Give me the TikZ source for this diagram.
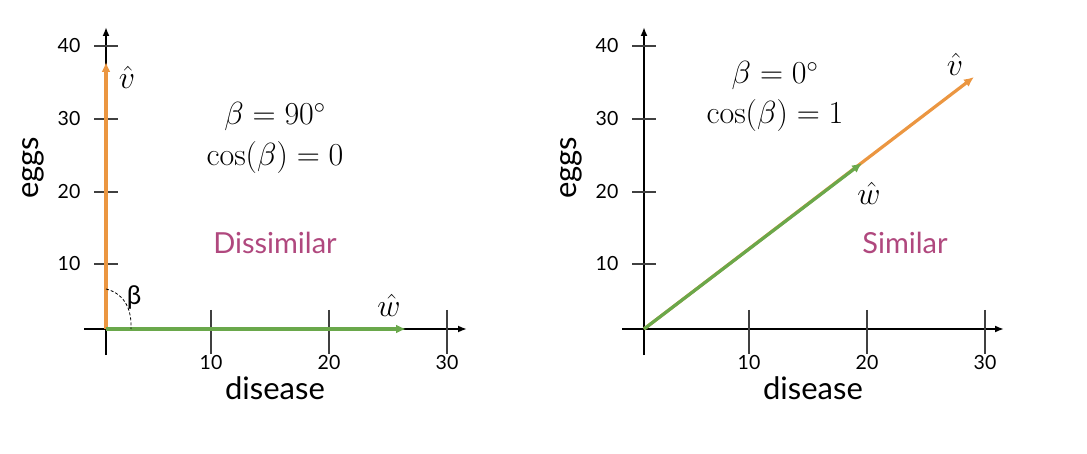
\RequirePackage{fix-cm}
\documentclass[tikz,border=0pt]{standalone}
\usepackage[no-math]{fontspec}
\usepackage{graphicx}
\setmainfont{Lato}
\usetikzlibrary{arrows.meta}
\definecolor{vorange}{HTML}{EB9641}
\definecolor{wgreen}{HTML}{6AA84B}
\definecolor{simcol}{HTML}{B0487E}
\definecolor{tickgray}{HTML}{404040}
\begin{document}
\begin{tikzpicture}[x=1pt,y=-1pt,
  axis/.style={line width=1.8pt,-{Latex[length=9pt,width=7pt]}},
  tickmark/.style={line width=1.3pt,tickgray},
  ticklab/.style={font=\fontsize{19.5}{22}\selectfont},
  axlab/.style={font=\fontsize{31}{34}\selectfont},
  vecv/.style={line width=3.2pt,vorange,-{Latex[length=10pt,width=9pt]}},
  vecw/.style={line width=3.2pt,wgreen,-{Latex[length=10pt,width=9pt]}},
  mathlab/.style={font=\fontsize{32}{36}\selectfont},
  simlab/.style={font=\fontsize{29}{33}\selectfont,text=simcol}]
\useasboundingbox (0,0) rectangle (1087,454);
% ---------- left plot ----------
\coordinate (Lo) at (106,329);
\coordinate (Lxs) at (84,329);
\coordinate (Lxe) at (467,329);
\coordinate (Lys) at (106,355);
\coordinate (Lye) at (106,27);
\draw[axis] (Lxs) -- (Lxe);
\draw[axis] (Lys) -- (Lye);
\foreach \x/\l in {211/10,329/20,447/30}{
  \draw[tickmark] (\x,310) -- (\x,354);
  \node[ticklab] (Lxt\l) at (\x,363) {\l};
}
\foreach \y/\l in {264/10,192/20,119/30,46/40}{
  \draw[tickmark] (94,\y) -- (118,\y);
  \node[ticklab] (Lyt\l) at (69,\y) {\l};
}
\node[axlab] (Lxl) at (275,388) {disease};
\node[axlab,rotate=90] (Lyl) at (33,168) {eggs};
\coordinate (Lv) at (106,62);
\coordinate (Lw) at (406,329);
\draw[vecv] (Lo) -- (Lv);
\draw[vecw] (Lo) -- (Lw);
\node[mathlab] (Lvl) at (127,77) {$\hat{v}$};
\node[mathlab] (Lwl) at (389,305) {$\hat{w}$};
\coordinate (La1) at (106,289);
\coordinate (La2) at (131,329);
\draw[dashed,line width=0.8pt,dash pattern=on 3pt off 2pt] (La1) .. controls (122,293) and (132,306) .. (La2);
\node[font=\fontsize{26}{30}\selectfont] (Lb) at (134,297) {β};
\node[mathlab] (Lm1) at (275,117) {$\beta = 90^\circ$};
\node[mathlab] (Lm2) at (275,158) {$\cos(\beta) = 0$};
\node[simlab] (Ld) at (275,243) {Dissimilar};
% ---------- right plot ----------
\coordinate (Ro) at (644,329);
\coordinate (Rxs) at (622,329);
\coordinate (Rxe) at (1004,329);
\coordinate (Rys) at (644,355);
\coordinate (Rye) at (644,27);
\draw[axis] (Rxs) -- (Rxe);
\draw[axis] (Rys) -- (Rye);
\foreach \x/\l in {749/10,867/20,985/30}{
  \draw[tickmark] (\x,310) -- (\x,354);
  \node[ticklab] (Rxt\l) at (\x,363) {\l};
}
\foreach \y/\l in {264/10,192/20,119/30,46/40}{
  \draw[tickmark] (632,\y) -- (656,\y);
  \node[ticklab] (Ryt\l) at (607,\y) {\l};
}
\node[axlab] (Rxl) at (813,388) {disease};
\node[axlab,rotate=90] (Ryl) at (571,168) {eggs};
\coordinate (Rv) at (974,77);
\coordinate (Rw) at (862,163);
\draw[vecv] (Ro) -- (Rv);
\draw[vecw] (Ro) -- (Rw);
\node[mathlab] (Rvl) at (955,64) {$\hat{v}$};
\node[mathlab] (Rwl) at (869,193) {$\hat{w}$};
\node[mathlab] (Rm1) at (775,76) {$\beta = 0^\circ$};
\node[mathlab] (Rm2) at (775,116) {$\cos(\beta) = 1$};
\node[simlab] (Rs) at (905,243) {Similar};
\end{tikzpicture}
\end{document}
